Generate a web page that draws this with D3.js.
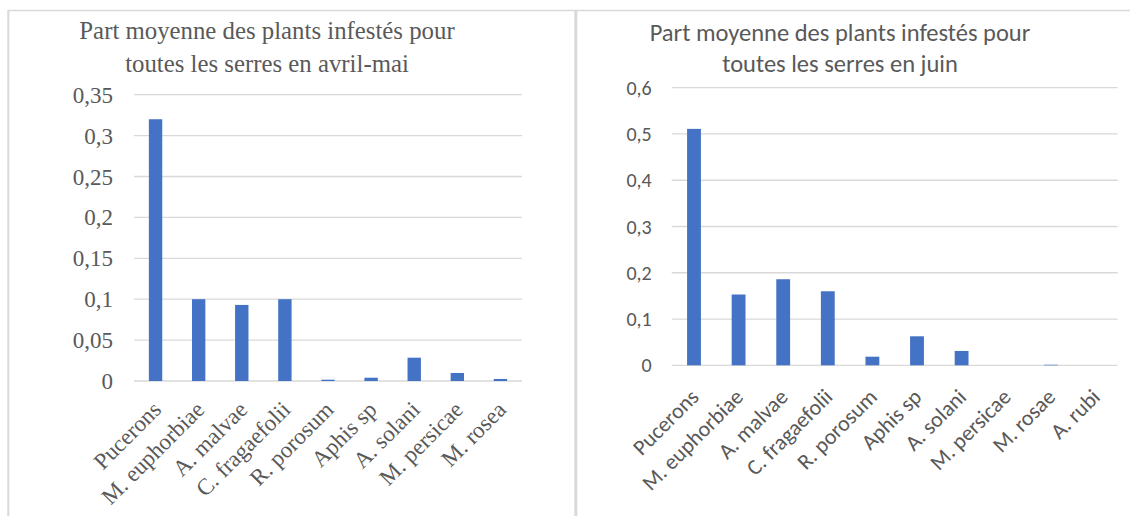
<!DOCTYPE html>
<html>
<head>
    <script src="https://d3js.org/d3.v7.min.js"></script>
    <style>
        body { margin: 0; background: white; }
    </style>
</head>
<body>
<svg id="chart" width="1130" height="516"></svg>
<script>
    // avril-mai
    var catsAvril = ["Pucerons", "M. euphorbiae", "A. malvae", "C. fragaefolii", "R. porosum", "Aphis sp", "A. solani", "M. persicae", "M. rosea"];
    var valsAvril = [0.32, 0.1, 0.093, 0.1, 0.0016, 0.004, 0.0285, 0.0098, 0.0025];
    var ticksAvril = [0, 0.05, 0.1, 0.15, 0.2, 0.25, 0.3, 0.35];

    // juin
    var catsJuin = ["Pucerons", "M. euphorbiae", "A. malvae", "C. fragaefolii", "R. porosum", "Aphis sp", "A. solani", "M. persicae", "M. rosae", "A. rubi"];
    var valsJuin = [0.511, 0.153, 0.186, 0.16, 0.0186, 0.0627, 0.031, 0, 0.0012, 0];
    var ticksJuin = [0, 0.1, 0.2, 0.3, 0.4, 0.5, 0.6];

    var svg = d3.select("#chart");
    var barColor = "#4472c4";
    var textColor = "#595959";
    var gridColor = "#d9d9d9";

    // panel borders
    svg.append("line").attr("x1", 8).attr("x2", 1130).attr("y1", 10.5).attr("y2", 10.5)
        .attr("stroke", gridColor).attr("stroke-width", 1.5);
    svg.append("line").attr("x1", 8.3).attr("x2", 8.3).attr("y1", 10).attr("y2", 516)
        .attr("stroke", gridColor).attr("stroke-width", 2);
    svg.append("line").attr("x1", 575.8).attr("x2", 575.8).attr("y1", 10).attr("y2", 516)
        .attr("stroke", gridColor).attr("stroke-width", 3);

    function drawChart(opt) {
        var x = d3.scaleBand()
            .domain(opt.cats)
            .range([opt.x0, opt.x1])
            .paddingInner(0.69)
            .paddingOuter(0.345);
        var y = d3.scaleLinear()
            .domain([0, opt.max])
            .range([opt.y0, opt.y1]);
        var fmt = function(d) { return String(+d.toFixed(2)).replace(".", ","); };

        var g = svg.append("g")
            .style("font-family", opt.font);

        // title
        g.append("text")
            .attr("text-anchor", "middle")
            .style("font-size", opt.titleSize + "px")
            .attr("fill", textColor)
            .selectAll("tspan")
            .data(opt.title)
            .enter()
            .append("tspan")
            .attr("x", opt.titleX)
            .attr("y", function(d, i) { return opt.titleY[i]; })
            .text(function(d) { return d; });

        // gridlines
        g.selectAll("line.grid")
            .data(opt.ticks)
            .enter()
            .append("line")
            .attr("class", "grid")
            .attr("x1", opt.x0)
            .attr("x2", opt.x1)
            .attr("y1", function(d) { return y(d); })
            .attr("y2", function(d) { return y(d); })
            .attr("stroke", gridColor)
            .attr("stroke-width", 1.3);

        // y labels
        g.selectAll("text.ylab")
            .data(opt.ticks)
            .enter()
            .append("text")
            .attr("class", "ylab")
            .attr("x", opt.x0 - opt.ylabGap)
            .attr("y", function(d) { return y(d); })
            .attr("dy", "0.35em")
            .attr("text-anchor", "end")
            .style("font-size", opt.labSize + "px")
            .attr("fill", textColor)
            .text(fmt);

        // bars
        g.selectAll("rect.bar")
            .data(opt.vals)
            .enter()
            .append("rect")
            .attr("class", "bar")
            .attr("x", function(d, i) { return x(opt.cats[i]); })
            .attr("width", x.bandwidth())
            .attr("y", function(d) { return y(d); })
            .attr("height", function(d) { return opt.y0 - y(d); })
            .attr("fill", barColor);

        // x labels
        g.selectAll("text.xlab")
            .data(opt.cats)
            .enter()
            .append("text")
            .attr("class", "xlab")
            .attr("text-anchor", "end")
            .style("font-size", opt.xlabSize + "px")
            .attr("fill", textColor)
            .attr("transform", function(d) {
                var cx = x(d) + x.bandwidth() / 2 + opt.xlabDx;
                return "translate(" + cx + "," + (opt.y0 + opt.xlabDy) + ") rotate(-45)";
            })
            .text(function(d) { return d; });
    }

    drawChart({
        cats: catsAvril, vals: valsAvril, ticks: ticksAvril, max: 0.35,
        x0: 134, x1: 522, y0: 381, y1: 94.7, font: "serif",
        titleSize: 24.8, labSize: 23, xlabSize: 23, ylabGap: 21,
        title: ["Part moyenne des plants infestés pour", "toutes les serres en avril-mai"],
        titleX: 267, titleY: [39, 72],
        xlabDx: 7, xlabDy: 30
    });

    drawChart({
        cats: catsJuin, vals: valsJuin, ticks: ticksJuin, max: 0.6,
        x0: 671.7, x1: 1117.7, y0: 365.3, y1: 87.7, font: "Carlito",
        titleSize: 24.5, labSize: 20, xlabSize: 22, ylabGap: 20,
        title: ["Part moyenne des plants infestés pour", "toutes les serres en juin"],
        titleX: 840, titleY: [41, 72],
        xlabDx: 6, xlabDy: 33
    });
</script>
</body>
</html>
